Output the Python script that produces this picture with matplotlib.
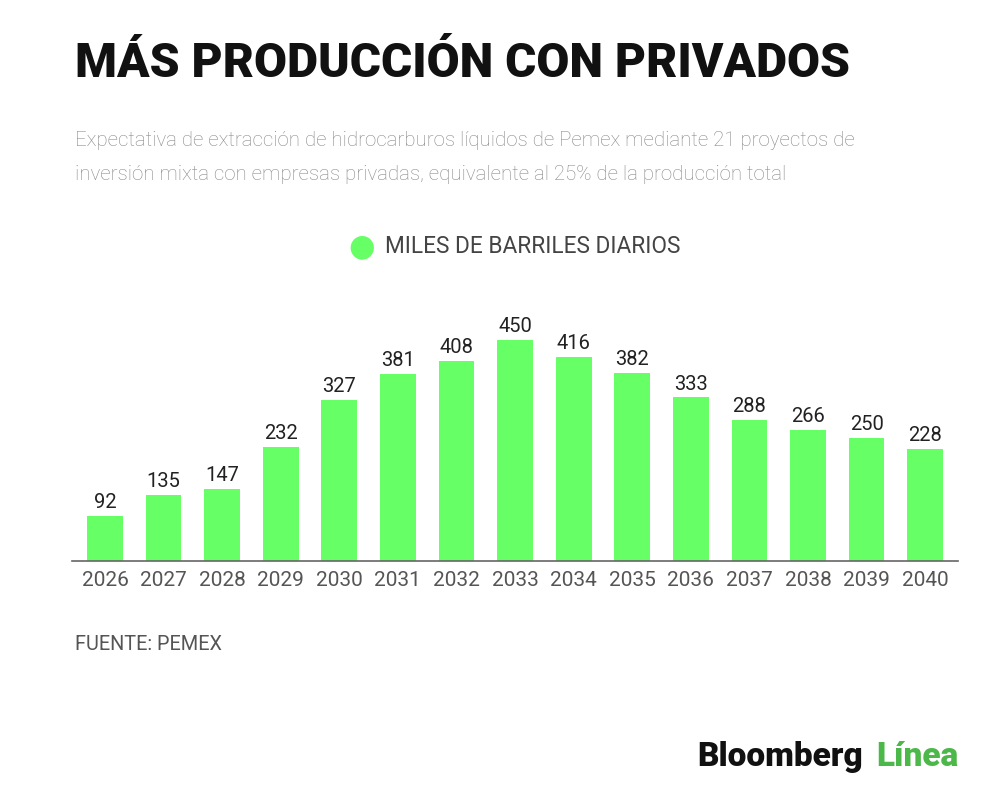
import matplotlib.pyplot as plt

# datos: miles de barriles diarios
years = ['2026', '2027', '2028', '2029', '2030', '2031', '2032', '2033',
         '2034', '2035', '2036', '2037', '2038', '2039', '2040']
values = [92, 135, 147, 232, 327, 381, 408, 450, 416, 382, 333, 288, 266, 250, 228]

plt.rcParams['font.family'] = ['Roboto', 'DejaVu Sans']

fig = plt.figure(figsize=(10, 8.01), dpi=100)
ax = fig.add_axes([0.072, 0.2996, 0.886, 0.3066])

x = range(len(years))
bars = ax.bar(x, values, width=0.61, color='#66FF66', zorder=2)
for b, v in zip(bars, values):
    ax.text(b.get_x() + b.get_width() / 2, v + 8, str(v), ha='center', va='bottom',
            fontsize=14.5, color='#222222')

ax.set_xlim(-0.563, 14.56)
ax.set_ylim(0, 500)
ax.set_xticks(list(x))
ax.set_xticklabels(years, fontsize=15, color='#555555')
ax.tick_params(axis='x', length=0, pad=7)
ax.set_yticks([])
for s in ['top', 'right', 'left']:
    ax.spines[s].set_visible(False)
ax.spines['bottom'].set_color('#666666')
ax.spines['bottom'].set_linewidth(1.2)

# titulo y subtitulo
fig.text(0.075, 0.92, 'MÁS PRODUCCIÓN CON PRIVADOS', fontsize=34.5, fontweight='black',
         color='#111111', va='center')
fig.text(0.075, 0.825, 'Expectativa de extracción de hidrocarburos líquidos de Pemex mediante 21 proyectos de',
         fontsize=14.8, fontweight='light', color='#888888', va='center')
fig.text(0.075, 0.782, 'inversión mixta con empresas privadas, equivalente al 25% de la producción total',
         fontsize=14.8, fontweight='light', color='#888888', va='center')

# leyenda
fig.text(0.362, 0.692, '●', fontsize=22, color='#66FF66', ha='center', va='center')
fig.text(0.385, 0.692, 'MILES DE BARRILES DIARIOS', fontsize=16.3, color='#444444', va='center')

fig.text(0.075, 0.196, 'FUENTE: PEMEX', fontsize=14.3, color='#555555', va='center')

fig.text(0.697, 0.055, 'Bloomberg', fontsize=24, fontweight='black', color='#111111', va='center')
fig.text(0.876, 0.055, 'Línea', fontsize=24, fontweight='black', color='#4DB84A', va='center')

fig.savefig('out.png', dpi=100)
